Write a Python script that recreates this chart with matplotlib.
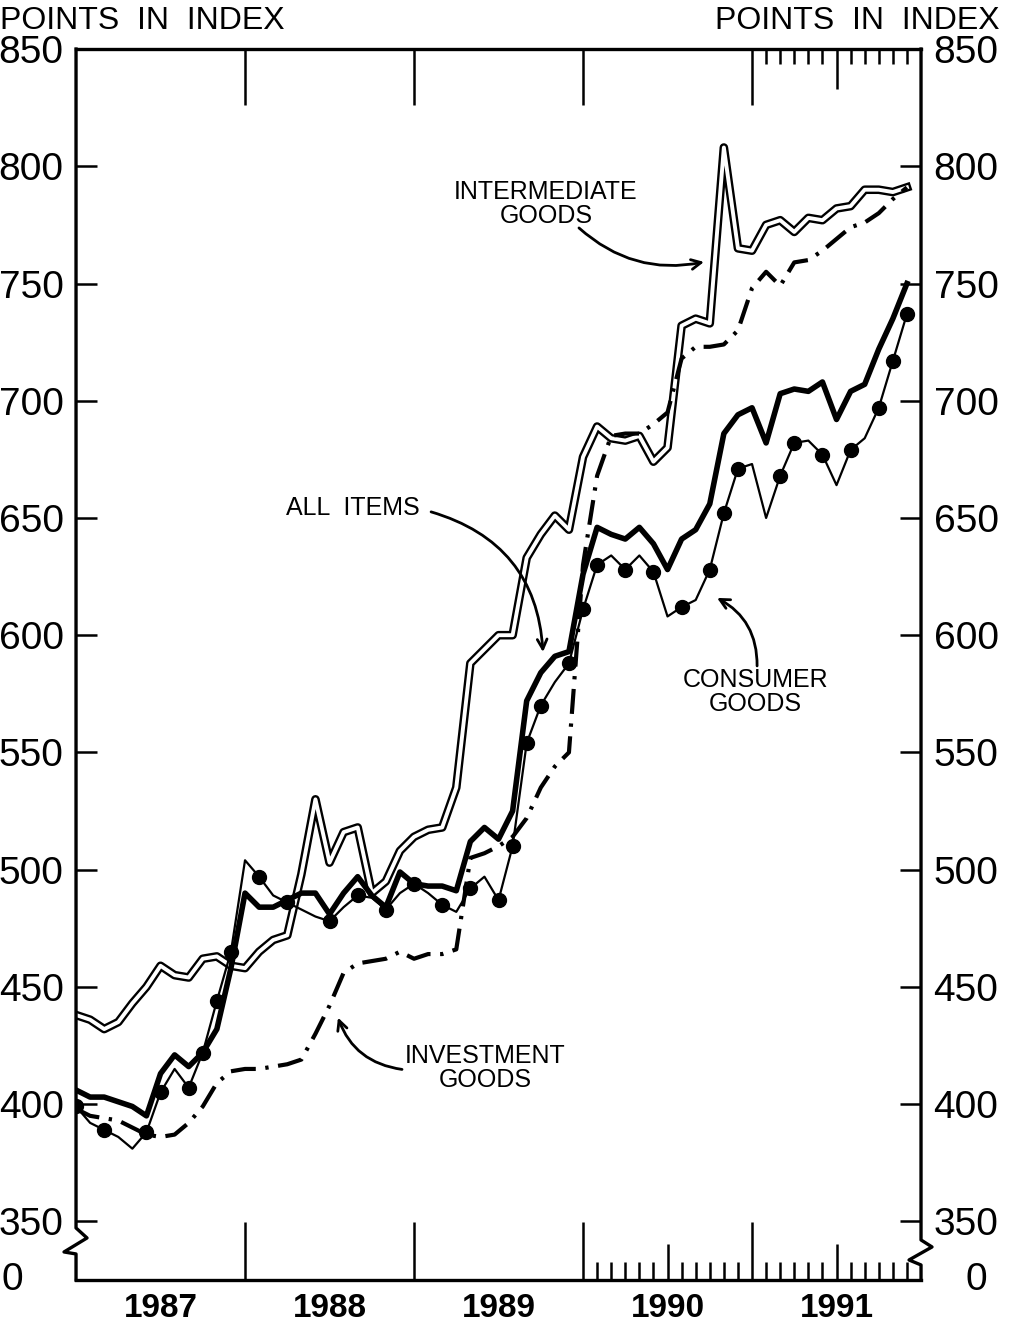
import numpy as np
import matplotlib.pyplot as plt

plt.rcParams['font.family'] = ['Liberation Sans', 'DejaVu Sans']

# monthly points, Jan 1987 .. Dec 1991
months = 1987 + np.arange(60) / 12

all_items = [406, 403, 403, 401, 399, 395, 413, 421, 416, 422, 432, 458,
             490, 484, 484, 487, 490, 490, 481, 490, 497, 489, 484, 499,
             494, 493, 493, 491, 512, 518, 513, 525, 572, 584, 591, 593,
             626, 646, 643, 641, 646, 639, 628, 641, 645, 656, 686, 694,
             697, 682, 703, 705, 704, 708, 692, 704, 707, 722, 735, 750]

consumer = [399, 392, 389, 386, 381, 388, 405, 415, 407, 422, 444, 465,
            504, 497, 489, 486, 483, 480, 478, 484, 489, 488, 483, 490,
            494, 490, 485, 482, 492, 497, 487, 510, 554, 570, 580, 588,
            611, 630, 634, 628, 634, 627, 608, 612, 615, 628, 652, 671,
            673, 650, 668, 682, 683, 677, 664, 679, 684, 697, 717, 737]
consumer_dots = [0, 2, 5, 6, 8, 9, 10, 11, 13, 15, 18, 20, 22, 24, 26, 28,
                 30, 31, 32, 33, 35, 36, 37, 39, 41, 43, 45, 46, 47, 50, 51,
                 53, 55, 57, 58, 59]

intermediate = [438, 436, 432, 435, 443, 450, 459, 455, 454, 462, 463, 459,
                458, 465, 470, 472, 498, 530, 503, 516, 518, 490, 495, 508,
                514, 517, 518, 535, 588, 594, 600, 600, 633, 643, 651, 645,
                676, 689, 684, 683, 685, 674, 680, 732, 735, 733, 808, 765,
                764, 775, 777, 772, 778, 777, 782, 783, 790, 790, 789, 791]

investment = [398, 395, 394, 393, 390, 387, 386, 387, 392, 399, 409, 414,
              415, 415, 416, 417, 419, 430, 442, 456, 460, 461, 462, 465,
              462, 464, 464, 466, 505, 507, 510, 514, 522, 535, 544, 550,
              630, 668, 685, 686, 686, 690, 695, 718, 723, 723, 724, 730,
              748, 755, 749, 759, 760, 764, 769, 774, 776, 780, 786, 791]

years = [1987, 1988, 1989, 1990, 1991]
yticks = [350, 400, 450, 500, 550, 600, 650, 700, 750, 800, 850]

fig = plt.figure(figsize=(10.11, 13.29), dpi=100)
ax = fig.add_axes([0.0752, 0.0369, 0.8358, 0.9262])
W, H = 845.0, 1231.0   # axes size in px

ax.set_xlim(1987, 1992)
ax.set_ylim(325, 850)

# lines
ax.plot(months, intermediate, color='k', lw=6.2)
ax.plot(months, intermediate, color='w', lw=2.8)
ax.plot(months, investment, color='k', lw=3.0, dashes=(6, 2.3, 0.8, 2.3))
ax.plot(months, all_items, color='k', lw=4.0)
ax.plot(months, consumer, color='k', lw=1.6, marker='o', markersize=10,
        markevery=consumer_dots)

# frame
for s in ['left', 'right']:
    ax.spines[s].set_visible(False)
for s in ['top', 'bottom']:
    ax.spines[s].set_linewidth(2.4)

zig_l = [(0, H), (0, 52), (11, 42), (-12, 28), (0, 26), (0, 0)]
zig_r = [(0, H), (0, 40), (11, 33), (-12, 20), (0, 15), (0, 0)]
ax.plot([p[0] / W for p in zig_l], [p[1] / H for p in zig_l], color='k',
        lw=2.4, transform=ax.transAxes, clip_on=False)
ax.plot([1 + p[0] / W for p in zig_r], [p[1] / H for p in zig_r], color='k',
        lw=2.4, transform=ax.transAxes, clip_on=False)

# y ticks
ax.set_yticks(yticks)
ax.set_yticklabels([str(v) for v in yticks])
ax.tick_params(axis='y', direction='in', length=15, width=1.8,
               left=True, right=True, labelleft=True, labelright=True,
               labelsize=28, pad=9)
ax.text(-64 / W, 0, '0', transform=ax.transAxes, fontsize=28,
        ha='center', va='center')
ax.text(1 + 55 / W, 0, '0', transform=ax.transAxes, fontsize=28,
        ha='center', va='center')

# x ticks
ax.set_xticks([])
xt = ax.get_xaxis_transform()
ax.vlines(years[1:], 0, 58 / H, transform=xt, color='k', lw=1.8)
ax.vlines(years[1:], 1 - 56 / H, 1, transform=xt, color='k', lw=1.8)
bottom_m = [1990 + k / 12 for k in range(1, 24) if k != 12]
for x in bottom_m:
    ln = 36 if abs(x % 1 - 0.5) < 0.01 else 18
    ax.vlines(x, 0, ln / H, transform=xt, color='k', lw=1.8)
top_m = [1991 + k / 12 for k in range(1, 12)]
for x in top_m:
    ln = 40 if abs(x % 1 - 0.5) < 0.01 else 15
    ax.vlines(x, 1 - ln / H, 1, transform=xt, color='k', lw=1.8)

for y in years:
    ax.text(y + 0.5, -29 / H, str(y), transform=xt, ha='center',
            va='center', fontsize=24, fontweight='bold')

fig.text(0.0, 1 - 21 / 1329, 'POINTS  IN  INDEX', fontsize=23,
         ha='left', va='center')
fig.text(1 - 11 / 1011, 1 - 21 / 1329, 'POINTS  IN  INDEX', fontsize=23,
         ha='right', va='center')

# annotations
arrow = dict(arrowstyle='->,head_length=0.7,head_width=0.35', lw=2,
             color='k', shrinkA=0, shrinkB=0)

ax.text(1989.781, 783.9, 'INTERMEDIATE\nGOODS', fontsize=18,
        ha='center', va='center', linespacing=1.0)
ax.annotate('', xy=(1990.716, 759.2), xytext=(1989.976, 773.7),
            arrowprops=dict(arrow, connectionstyle='arc3,rad=0.25'))

ax.text(1988.639, 654.3, 'ALL  ITEMS', fontsize=18, ha='center',
        va='center')
ax.annotate('', xy=(1989.763, 592.8), xytext=(1989.101, 652.6),
            arrowprops=dict(arrow, connectionstyle='arc3,rad=-0.35'))

ax.text(1991.018, 575.8, 'CONSUMER\nGOODS', fontsize=18, ha='center',
        va='center', linespacing=1.0)
ax.annotate('', xy=(1990.793, 615.9), xytext=(1991.030, 586.9),
            arrowprops=dict(arrow, connectionstyle='arc3,rad=0.3'))

ax.text(1989.420, 415.2, 'INVESTMENT\nGOODS', fontsize=18, ha='center',
        va='center', linespacing=1.0)
ax.annotate('', xy=(1988.550, 436.9), xytext=(1988.929, 414.8),
            arrowprops=dict(arrow, connectionstyle='arc3,rad=-0.3'))

fig.savefig('out.png', dpi=100, facecolor='white')
